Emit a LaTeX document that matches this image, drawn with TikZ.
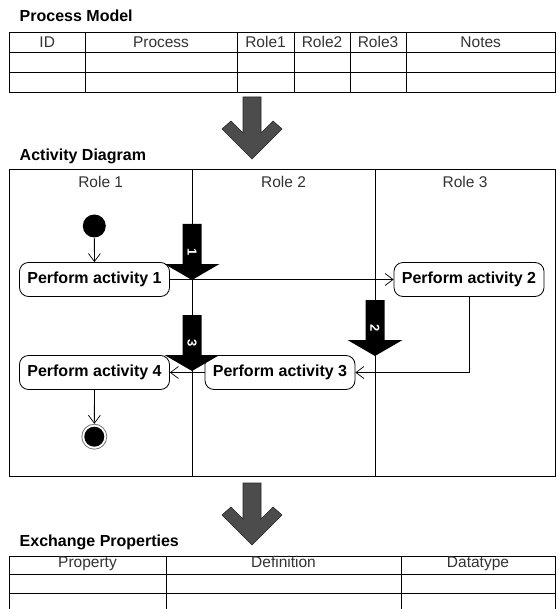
\documentclass[tikz,border=0pt]{standalone}
\usepackage{fontspec}
\setmainfont{Liberation Sans}
\usetikzlibrary{arrows.meta}

\tikzset{
  title/.style={anchor=base west, font=\fontsize{16}{19}\selectfont\bfseries},
  head/.style={anchor=base, text=black!80, font=\fontsize{15.5}{18}\selectfont},
  activity/.style={draw, rounded corners=9pt, minimum width=150, minimum height=34, inner sep=2pt, font=\fontsize{16}{19}\selectfont\bfseries},
  flow/.style={-{Straight Barb[length=8pt,width=12pt,line width=0.7pt]}},
  handofflabel/.style={rotate=-90, text=white, inner sep=0pt, font=\fontsize{13}{15}\selectfont\bfseries},
  stage/.style={fill=black!70, draw=black!85, line width=0.6pt},
}

\newcommand\handoff[4]{%
  \fill ({#2-9.5},#3) -- ({#2+9.5},#3) -- ({#2+9.5},{#3+40}) -- ({#2+27.5},{#3+40}) -- (#2,{#3+56}) -- ({#2-27.5},{#3+40}) -- ({#2-9.5},{#3+40}) -- cycle;
  \node[handofflabel] (#1) at (#2,{#3+28}) {#4};}
\newcommand\stagearrow[2]{%
  \filldraw[stage] ({#1-9},#2) -- ({#1+9},#2) -- ({#1+9},{#2+36}) -- ({#1+21},{#2+24}) -- ({#1+30},{#2+32}) -- (#1,{#2+62}) -- ({#1-30},{#2+32}) -- ({#1-21},{#2+24}) -- ({#1-9},{#2+36}) -- cycle;}

\begin{document}
\begin{tikzpicture}[x=1pt, y=-1pt, line width=0.8pt]
\useasboundingbox (0,0) rectangle (558,609);

\node[title] (pmtitle) at (16,22) {Process Model};
\draw (9.5,32) rectangle (555.5,92);
\foreach \y in {52,72} \draw (9.5,\y) -- (555.5,\y);
\foreach \x in {85,237,294,350,406} \draw (\x,32) -- (\x,92);
\foreach \x/\t/\n in {47.2/ID/id, 161/Process/process, 265.5/Role1/roleone, 322/Role2/roletwo, 378/Role3/rolethree, 480.7/Notes/notes}
  \node[head] (\n) at (\x,47.5) {\t};

\stagearrow{252}{97}

\node[title] (adtitle) at (16,160.7) {Activity Diagram};
\draw (9.5,169.5) rectangle (555.5,476);
\draw (192,169.5) -- (192,476);
\draw (375,169.5) -- (375,476);
\node[head] (lane1) at (100.7,188) {Role 1};
\node[head] (lane2) at (283.5,188) {Role 2};
\node[head] (lane3) at (465,188) {Role 3};

\node[circle, fill, minimum size=23, inner sep=0pt] (start) at (94.3,226) {};
\node[activity] (act1) at (94.5,279.5) {Perform activity 1};
\node[activity] (act2) at (469,279.5) {Perform activity 2};
\node[activity] (act3) at (280,372.5) {Perform activity 3};
\node[activity] (act4) at (94.5,372.5) {Perform activity 4};
\node[circle, draw=black!55, minimum size=25, inner sep=0pt] (finish) at (94.3,436.7) {};
\fill (finish.center) circle (10);

\draw[flow] (start) -- (act1);
\draw[flow] (act1.east) -- (act2.west);
\draw[flow] (act2.south) |- (act3.east);
\draw[flow] (act3.west) -- (act4.east);
\draw[flow] (act4) -- (finish);

\handoff{h1}{192}{224}{1}
\handoff{h2}{375}{300}{2}
\handoff{h3}{192}{315}{3}

\stagearrow{252}{483}

\node[title] (eptitle) at (16,546) {Exchange Properties};
\draw (9.5,612) -- (9.5,556) -- (555.5,556) -- (555.5,612);
\foreach \y in {574,593} \draw (9.5,\y) -- (555.5,\y);
\foreach \x in {166,401} \draw (\x,556) -- (\x,612);
\foreach \x/\t/\n in {87.5/Property/property, 283.5/Definition/definition, 478/Datatype/datatype}
  \node[head] (\n) at (\x,567.3) {\t};
\end{tikzpicture}
\end{document}
